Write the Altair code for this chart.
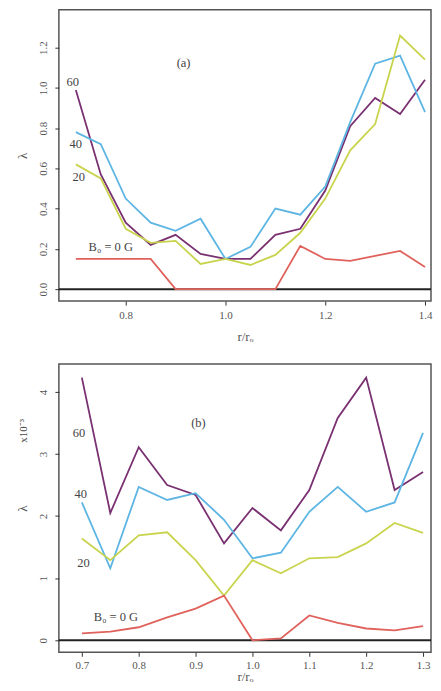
import altair as alt
import pandas as pd

# ---------------- data ----------------
xa = [0.70, 0.75, 0.80, 0.85, 0.90, 0.95, 1.00, 1.05, 1.10, 1.15, 1.20, 1.25, 1.30, 1.35, 1.40]
a_60 = [0.99, 0.57, 0.33, 0.22, 0.27, 0.175, 0.15, 0.15, 0.27, 0.30, 0.49, 0.81, 0.95, 0.87, 1.04]
a_40 = [0.78, 0.72, 0.45, 0.33, 0.29, 0.35, 0.15, 0.21, 0.40, 0.37, 0.51, 0.83, 1.12, 1.16, 0.88]
a_20 = [0.62, 0.55, 0.30, 0.23, 0.24, 0.125, 0.15, 0.12, 0.17, 0.28, 0.45, 0.69, 0.82, 1.26, 1.14]
a_0 = [0.15, 0.15, 0.15, 0.15, 0.0, 0.0, 0.0, 0.0, 0.0, 0.215, 0.15, 0.14, 0.165, 0.19, 0.11]

xb = [0.70, 0.75, 0.80, 0.85, 0.90, 0.95, 1.00, 1.05, 1.10, 1.15, 1.20, 1.25, 1.30]
b_60 = [4.23, 2.05, 3.11, 2.50, 2.34, 1.56, 2.13, 1.77, 2.42, 3.58, 4.23, 2.42, 2.71]
b_40 = [2.22, 1.16, 2.47, 2.26, 2.37, 1.94, 1.32, 1.41, 2.07, 2.47, 2.07, 2.22, 3.34]
b_20 = [1.64, 1.29, 1.69, 1.74, 1.29, 0.72, 1.29, 1.08, 1.32, 1.34, 1.56, 1.89, 1.73]
b_0 = [0.11, 0.14, 0.21, 0.37, 0.51, 0.72, 0.0, 0.03, 0.40, 0.28, 0.19, 0.16, 0.23]

series_names = ["60", "40", "20", "0"]
series_colors = ["#7a3172", "#5db5e3", "#c9d44e", "#e0625c"]

a_labels = ["(a)", "60", "40", "20", "B₀ = 0 G"]
a_lab_x = [0.916, 0.694, 0.700, 0.706, 0.770]
a_lab_y = [1.125, 1.03, 0.72, 0.555, 0.21]

b_labels = ["(b)", "60", "40", "20", "B₀ = 0 G"]
b_lab_x = [0.905, 0.695, 0.698, 0.703, 0.760]
b_lab_y = [3.50, 3.33, 2.35, 1.24, 0.37]

FONT = "Liberation Serif"


def long_df(xs, cols):
    rows = []
    for name, vals in zip(series_names, cols):
        for x, y in zip(xs, vals):
            rows.append({"s": name, "x": x, "y": y})
    return pd.DataFrame(rows)


da = long_df(xa, [a_60, a_40, a_20, a_0])
db = long_df(xb, [b_60, b_40, b_20, b_0])
la = pd.DataFrame({"t": a_labels, "x": a_lab_x, "y": a_lab_y})
lb = pd.DataFrame({"t": b_labels, "x": b_lab_x, "y": b_lab_y})

color = alt.Color("s:N", scale=alt.Scale(domain=series_names, range=series_colors), legend=None)


def panel(df, labs, xdom, ydom, xticks, yticks, xfmt, yfmt, w, h, xlp, xtp, extra=None):
    xs = alt.Scale(domain=xdom, nice=False, zero=False)
    ys = alt.Scale(domain=ydom, nice=False, zero=False)
    lines = alt.Chart(df).mark_line(strokeWidth=1.8, clip=True).encode(
        x=alt.X("x:Q", scale=xs, axis=alt.Axis(values=xticks, format=xfmt, title="r/rₒ",
                                               labelFlush=False, tickSize=4, labelPadding=xlp,
                                               titlePadding=xtp)),
        y=alt.Y("y:Q", scale=ys, axis=alt.Axis(values=yticks, format=yfmt, title="λ",
                                               labelAngle=-90, labelAlign="center", labelBaseline="bottom",
                                               labelPadding=6, tickSize=4, titlePadding=8)),
        color=color,
        detail="s:N",
    )
    zero = alt.Chart(pd.DataFrame({"y": [0]})).mark_rule(color="#222", strokeWidth=2).encode(
        y=alt.Y("y:Q", scale=ys)
    )
    texts = alt.Chart(labs).mark_text(font=FONT, fontSize=12.5, color="#444").encode(
        x=alt.X("x:Q", scale=xs), y=alt.Y("y:Q", scale=ys), text="t:N"
    )
    layers = [zero, lines, texts]
    if extra is not None:
        layers.append(extra)
    return alt.layer(*layers).properties(width=w, height=h)


top = panel(da, la, [0.666, 1.412], [-0.0595, 1.388], [0.8, 1.0, 1.2, 1.4],
            [0.0, 0.2, 0.4, 0.6, 0.8, 1.0, 1.2], ".1f", ".1f", 373, 292, 4, 10)

mult = alt.Chart(pd.DataFrame({"t": ["x10⁻³"]})).mark_text(
    font=FONT, fontSize=11, color="#444", angle=270
).encode(x=alt.value(-35), y=alt.value(67), text="t:N")

bottom = panel(db, lb, [0.6596, 1.314], [-0.193, 4.45], [0.7, 0.8, 0.9, 1.0, 1.1, 1.2, 1.3],
               [0, 1, 2, 3, 4], ".1f", "d", 373, 289, 3, 0, extra=mult)

chart = alt.vconcat(top, bottom, spacing=19).properties(
    padding={"left": 8, "top": 0, "right": 0, "bottom": 0}
).configure_view(
    stroke="#555", strokeWidth=1.5
).configure_axis(
    grid=False, domain=False, labelFont=FONT, titleFont=FONT, labelFontSize=11,
    titleFontSize=13, titleFontWeight="normal", labelColor="#555", titleColor="#555",
    tickColor="#333"
)

chart.save("out.html", embed_options={"renderer": "svg", "actions": False})
